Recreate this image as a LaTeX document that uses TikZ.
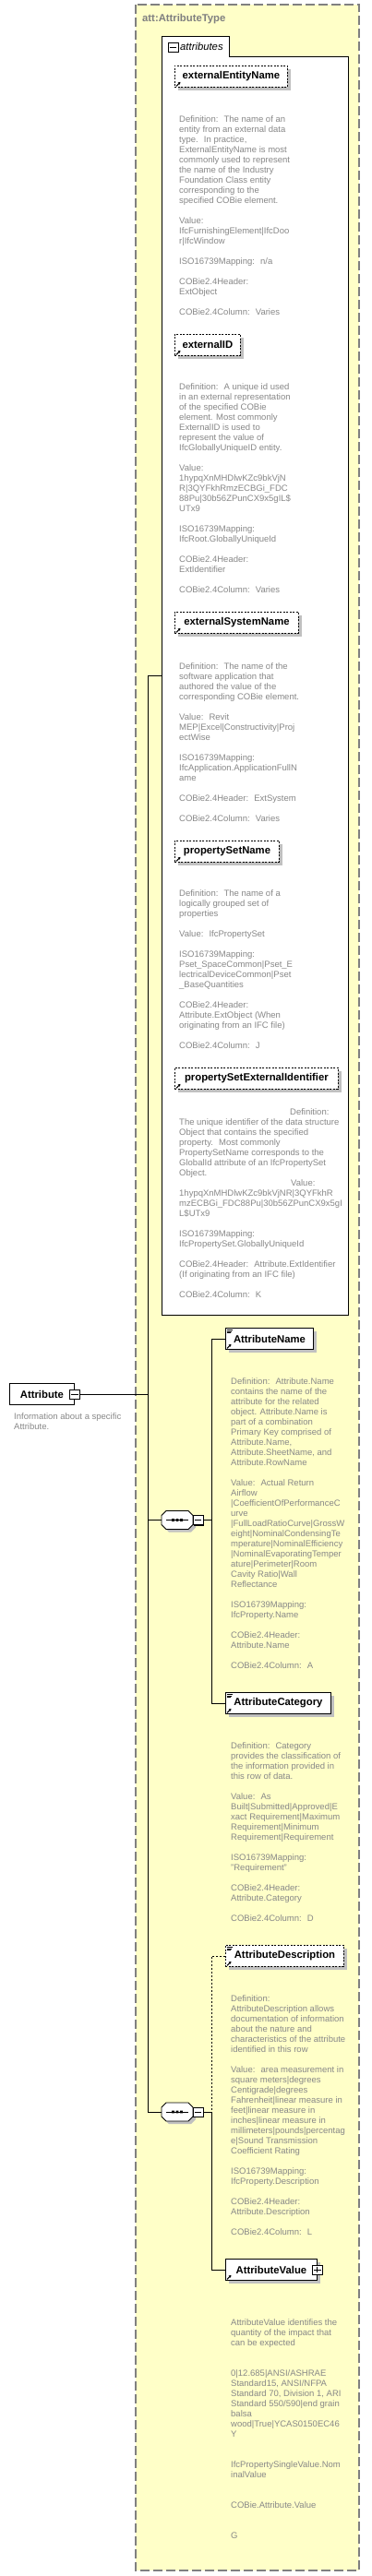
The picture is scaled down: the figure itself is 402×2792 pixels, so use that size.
\documentclass[tikz,border=0pt]{standalone}
\usepackage{fontspec}
\setmainfont{Liberation Sans}
\usetikzlibrary{shadows,arrows.meta}
\definecolor{bgyellow}{RGB}{255,255,200}
\definecolor{framegray}{RGB}{128,128,128}
\definecolor{descgray}{RGB}{136,136,136}
\definecolor{shadowgray}{RGB}{192,192,192}
\newcommand\descfont{\fontsize{9.5}{11}\selectfont}
\newcommand\elemfont{\fontsize{11.3}{13}\selectfont\bfseries}
\newcommand\refarrow[1]{\draw[line width=1pt,-{Triangle[length=2.5pt,width=3pt]}] ([shift={(2,-1.5)}]#1.south west) -- ++(4.5,-4.5);}
\newcommand\lineicon[1]{\draw[line width=0.6pt] ([shift={(2,2)}]#1.north west) -- ++(6,0) ([shift={(2,3.8)}]#1.north west) -- ++(5,0) ([shift={(2,5.6)}]#1.north west) -- ++(4,0);}
\newcommand\minussign[1]{\draw[line width=0.9pt] ([xshift=2pt]#1.west) -- ([xshift=-2pt]#1.east);}
\newcommand\plussign[1]{\minussign{#1}\draw[line width=0.9pt] ([yshift=-2pt]#1.north) -- ([yshift=2pt]#1.south);}
\newcommand\octpath{(-12,-10) -- (12,-10) -- (17,-5) -- (17,5) -- (12,10) -- (-12,10) -- (-17,5) -- (-17,-5) -- cycle}
\newcommand\seqshape[1]{%
  \fill[shadowgray,shift={(#1.center)},xshift=3pt,yshift=-3pt] \octpath;
  \draw[line width=0.9pt,fill=white,shift={(#1.center)}] \octpath;
  \draw[line width=0.9pt,shift={(#1.center)}] (-12,0) -- (12,0);
  \fill[shift={(#1.center)}] (-5.8,-1.3) rectangle (-3.2,1.3) (-1.3,-1.3) rectangle (1.3,1.3) (3.2,-1.3) rectangle (5.8,1.3);}
\begin{document}
\begin{tikzpicture}[x=1pt,y=-1pt,
  elem/.style={draw,fill=white,line width=0.9pt,font=\elemfont,inner sep=0pt,anchor=north west,minimum height=23pt,
    drop shadow={shadow xshift=4pt,shadow yshift=-4pt,fill=shadowgray,opacity=1}},
  optelem/.style={elem,dash pattern=on 2pt off 1.5pt},
  desc/.style={anchor=north west,inner sep=0pt,align=left,font=\descfont,text=descgray},
  pmbox/.style={draw,fill=white,line width=0.9pt,minimum width=11pt,minimum height=10pt,inner sep=0pt,
    general shadow={shadow xshift=1pt,shadow yshift=-1pt,fill=black}},
  seqbox/.style={minimum width=34pt,minimum height=20pt,inner sep=0pt},
  conn/.style={line width=0.9pt},
  optconn/.style={line width=0.9pt,dash pattern=on 2pt off 2pt}]
\useasboundingbox (0,0) rectangle (402,2792);
% outer complex type frame
\draw[framegray,line width=1.2pt,dash pattern=on 10pt off 4pt,fill=bgyellow] (147,5) rectangle (389,2786);
\node[anchor=base west,inner sep=0pt,font=\elemfont,text=framegray] (title) at (154,23) {att:AttributeType};
% attributes group
\draw[line width=0.9pt,fill=white] (175,39) -- (248,39) -- (248,61) -- (377,61) -- (377,1425) -- (175,1425) -- cycle;
\node[pmbox] (gm) at (187.5,51) {};
\minussign{gm}
\node[anchor=base west,inner sep=0pt,font=\fontsize{11.3}{13}\selectfont\itshape] (gtitle) at (195,54) {attributes};
\coordinate (grp) at (175,732);

% attribute elements
\node[optelem,minimum width=122pt] (een) at (189,71) {externalEntityName};
\refarrow{een}
\node[desc] (d1) at (194,124.8) {\strut Definition:~ The name of an\\
entity from an external data\\
type.~ In practice,\\
ExternalEntityName is most\\
commonly used to represent\\
the name of the Industry\\
Foundation Class entity\\
corresponding to the\\
specified COBie element.\\[11pt]
Value:\\
IfcFurnishingElement|IfcDoo\\
r|IfcWindow\\[11pt]
ISO16739Mapping:~ n/a\\[11pt]
COBie2.4Header:\\
ExtObject\\[11pt]
COBie2.4Column:~ Varies};

\node[optelem,minimum width=71pt] (eid) at (189,362) {externalID};
\refarrow{eid}
\node[desc] (d2) at (194,414.8) {\strut Definition:~ A unique id used\\
in an external representation\\
of the specified COBie\\
element. Most commonly\\
ExternalID is used to\\
represent the value of\\
IfcGloballyUniqueID entity.\\[11pt]
Value:\\
1hypqXnMHDlwKZc9bkVjN\\
R|3QYFkhRmzECBGi\_FDC\\
88Pu|30b56ZPunCX9x5gIL\$\\
UTx9\\[11pt]
ISO16739Mapping:\\
IfcRoot.GloballyUniqueId\\[11pt]
COBie2.4Header:\\
ExtIdentifier\\[11pt]
COBie2.4Column:~ Varies};

\node[optelem,minimum width=134pt] (esn) at (189,663) {externalSystemName};
\refarrow{esn}
\node[desc] (d3) at (194,717.8) {\strut Definition:~ The name of the\\
software application that\\
authored the value of the\\
corresponding COBie element.\\[11pt]
Value:~ Revit\\
MEP|Excel|Constructivity|Proj\\
ectWise\\[11pt]
ISO16739Mapping:\\
IfcApplication.ApplicationFullN\\
ame\\[11pt]
COBie2.4Header:~ ExtSystem\\[11pt]
COBie2.4Column:~ Varies};

\node[optelem,minimum width=113pt] (psn) at (189,911) {propertySetName};
\refarrow{psn}
\node[desc] (d4) at (194,963.8) {\strut Definition:~ The name of a\\
logically grouped set of\\
properties\\[11pt]
Value:~ IfcPropertySet\\[11pt]
ISO16739Mapping:\\
Pset\_SpaceCommon|Pset\_E\\
lectricalDeviceCommon|Pset\\
\_BaseQuantities\\[11pt]
COBie2.4Header:\\
Attribute.ExtObject (When\\
originating from an IFC file)\\[11pt]
COBie2.4Column:~ J};

\node[optelem,minimum width=177pt] (psei) at (189,1157) {propertySetExternalIdentifier};
\refarrow{psei}
\node[desc] (d5) at (194,1200.8) {\strut\hspace*{120pt}Definition:\\
The unique identifier of the data structure\\
Object that contains the specified\\
property.~ Most commonly\\
PropertySetName corresponds to the\\
GlobalId attribute of an IfcPropertySet\\
Object.\\
\hspace*{121pt}Value:\\
1hypqXnMHDlwKZc9bkVjNR|3QYFkhR\\
mzECBGi\_FDC88Pu|30b56ZPunCX9x5gI\\
L\$UTx9\\[11pt]
ISO16739Mapping:\\
IfcPropertySet.GloballyUniqueId\\[11pt]
COBie2.4Header:~ Attribute.ExtIdentifier\\
(If originating from an IFC file)\\[11pt]
COBie2.4Column:~ K};

% root element
\node[draw,fill=white,line width=0.9pt,font=\elemfont,inner sep=0pt,anchor=north west,minimum width=70pt,minimum height=23pt] (attr) at (10,1499) {Attribute};
\node[pmbox] (attrm) at (attr.east) {};
\minussign{attrm}
\node[desc] (attrd) at (15,1530.8) {\strut Information about a specific\\Attribute.};

% main bus
\coordinate (busT) at (160,732);
\coordinate (busB) at (160,2289);
\draw[conn] (busT) -- (busB);
\draw[conn] (busT) -- (grp);
\draw[conn] (attrm.east) -- (attrm.east -| busT);

% sequence 1
\node[seqbox] (s1) at (192,1647.5) {};
\seqshape{s1}
\node[pmbox] (s1m) at (214.5,1647.5) {};
\minussign{s1m}
\draw[conn] (s1.west -| busT) -- (s1.west);
\coordinate (r1) at (229,1647.5);
\draw[conn] (s1m.east) -- (r1);

\node[elem,minimum width=95pt] (aname) at (244,1439) {AttributeName};
\lineicon{aname}\refarrow{aname}
\draw[conn] (aname.west) -| (r1);
\node[desc] (d6) at (250,1492.8) {\strut Definition:~ Attribute.Name\\
contains the name of the\\
attribute for the related\\
object. Attribute.Name is\\
part of a combination\\
Primary Key comprised of\\
Attribute.Name,\\
Attribute.SheetName, and\\
Attribute.RowName\\[11pt]
Value:~ Actual Return\\
Airflow\\
|CoefficientOfPerformanceC\\
urve\\
|FullLoadRatioCurve|GrossW\\
eight|NominalCondensingTe\\
mperature|NominalEfficiency\\
|NominalEvaporatingTemper\\
ature|Perimeter|Room\\
Cavity Ratio|Wall\\
Reflectance\\[11pt]
ISO16739Mapping:\\
IfcProperty.Name\\[11pt]
COBie2.4Header:\\
Attribute.Name\\[11pt]
COBie2.4Column:~ A};

\node[elem,minimum width=114pt] (acat) at (244,1834) {AttributeCategory};
\lineicon{acat}\refarrow{acat}
\draw[conn] (acat.west) -| (r1);
\node[desc] (d7) at (250,1887.8) {\strut Definition:~ Category\\
provides the classification of\\
the information provided in\\
this row of data.\\[11pt]
Value:~ As\\
Built|Submitted|Approved|E\\
xact Requirement|Maximum\\
Requirement|Minimum\\
Requirement|Requirement\\[11pt]
ISO16739Mapping:\\
"Requirement"\\[11pt]
COBie2.4Header:\\
Attribute.Category\\[11pt]
COBie2.4Column:~ D};

% sequence 2
\node[seqbox] (s2) at (192,2289) {};
\seqshape{s2}
\node[pmbox] (s2m) at (214.5,2289) {};
\minussign{s2m}
\draw[conn] (busB) -- (s2.west);
\coordinate (r2) at (229,2289);
\draw[conn] (s2m.east) -- (r2);

\node[optelem,minimum width=128pt] (adesc) at (244,2108) {AttributeDescription};
\lineicon{adesc}\refarrow{adesc}
\draw[optconn] (adesc.west) -| (r2);
\node[desc] (d8) at (250,2161.8) {\strut Definition:\\
AttributeDescription allows\\
documentation of information\\
about the nature and\\
characteristics of the attribute\\
identified in this row\\[11pt]
Value:~ area measurement in\\
square meters|degrees\\
Centigrade|degrees\\
Fahrenheit|linear measure in\\
feet|linear measure in\\
inches|linear measure in\\
millimeters|pounds|percentag\\
e|Sound Transmission\\
Coefficient Rating\\[11pt]
ISO16739Mapping:\\
IfcProperty.Description\\[11pt]
COBie2.4Header:\\
Attribute.Description\\[11pt]
COBie2.4Column:~ L};

\node[elem,minimum width=99pt] (aval) at (244,2448) {AttributeValue};
\refarrow{aval}
\node[pmbox] (avalp) at (aval.east) {};
\plussign{avalp}
\draw[conn] (aval.west) -| (r2);
\node[desc] (d9) at (250,2512.8) {\strut AttributeValue identifies the\\
quantity of the impact that\\
can be expected\\[22pt]
0|12.685|ANSI/ASHRAE\\
Standard15, ANSI/NFPA\\
Standard 70, Division 1, ARI\\
Standard 550/590|end grain\\
balsa\\
wood|True|YCAS0150EC46\\
Y\\[22pt]
IfcPropertySingleValue.Nom\\
inalValue\\[22pt]
COBie.Attribute.Value\\[22pt]
G};
\end{tikzpicture}
\end{document}
